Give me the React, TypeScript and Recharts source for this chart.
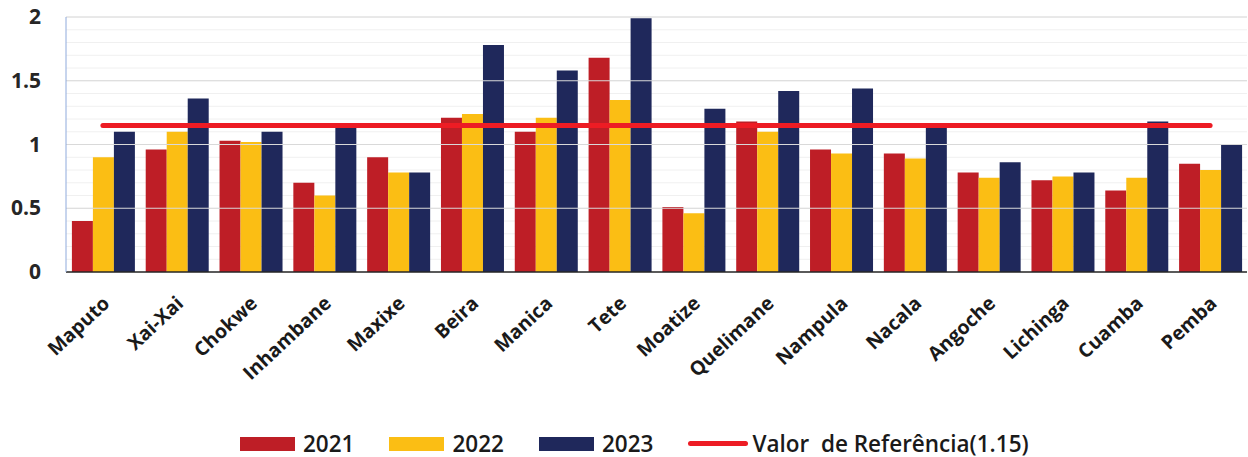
import React from "react";
import {
  ComposedChart,
  Bar,
  Line,
  XAxis,
  YAxis,
  CartesianGrid,
  ReferenceLine,
  Legend,
} from "recharts";

const categories = [
  "Maputo", "Xai-Xai", "Chokwe", "Inhambane", "Maxixe", "Beira", "Manica", "Tete",
  "Moatize", "Quelimane", "Nampula", "Nacala", "Angoche", "Lichinga", "Cuamba", "Pemba",
];
const values2021 = [0.4, 0.96, 1.03, 0.7, 0.9, 1.21, 1.1, 1.68, 0.51, 1.18, 0.96, 0.93, 0.78, 0.72, 0.64, 0.85];
const values2022 = [0.9, 1.1, 1.02, 0.6, 0.78, 1.24, 1.21, 1.35, 0.46, 1.1, 0.93, 0.89, 0.74, 0.75, 0.74, 0.8];
const values2023 = [1.1, 1.36, 1.1, 1.13, 0.78, 1.78, 1.58, 1.99, 1.28, 1.42, 1.44, 1.13, 0.86, 0.78, 1.18, 1.0];
const REF_VALUE = 1.15;
const REF_LABEL = "Valor  de Referência(1.15)";
const seriesNames = ["2021", "2022", "2023"];
const yMajorTicks = [0, 0.5, 1, 1.5, 2];
const yMinorTicks = [0, 0.1, 0.2, 0.3, 0.4, 0.5, 0.6, 0.7, 0.8, 0.9, 1, 1.1, 1.2, 1.3, 1.4, 1.5, 1.6, 1.7, 1.8, 1.9, 2];

const COLORS = ["#BE1E26", "#FBBE14", "#1F285B"];
const REF_COLOR = "#ED1C24";
const FONT = "'Open Sans', 'Liberation Sans', sans-serif";

const data = categories.map((name, i) => ({
  name,
  y2021: values2021[i],
  y2022: values2022[i],
  y2023: values2023[i],
  refValue: REF_VALUE,
}));

const XTick = (props: any) => {
  const { x, y, payload } = props;
  return (
    <g transform={`translate(${x + 8},${y + 33})`}>
      <text
        x={0}
        y={0}
        textAnchor="end"
        transform="rotate(-43)"
        fill="#1a1a1a"
        fontFamily={FONT}
        fontWeight={700}
        fontSize={19.5}
      >
        {payload.value}
      </text>
    </g>
  );
};

const YTick = (props: any) => {
  const { x, y, payload } = props;
  if (!yMajorTicks.includes(payload.value)) return <g />;
  return (
    <text
      x={x}
      y={y}
      dy={7}
      textAnchor="end"
      fill="#262626"
      fontFamily={FONT}
      fontWeight={700}
      fontSize={21}
    >
      {payload.value}
    </text>
  );
};

const LegendContent = () => {
  const textStyle: React.CSSProperties = {
    fontFamily: FONT,
    fontWeight: 600,
    fontSize: 22.5,
    color: "#1a1a1a",
    whiteSpace: "pre",
    lineHeight: "normal",
  };
  return (
    <div
      style={{
        display: "flex",
        alignItems: "center",
        height: 45,
        paddingTop: 18,
        paddingLeft: 240,
        boxSizing: "border-box",
      }}
    >
      {seriesNames.map((s, i) => (
        <div key={s} style={{ display: "flex", alignItems: "center", marginRight: 35 }}>
          <div style={{ width: 55, height: 14, background: COLORS[i], marginRight: 8 }} />
          <span style={textStyle}>{s}</span>
        </div>
      ))}
      <div style={{ display: "flex", alignItems: "center" }}>
        <div style={{ width: 60, height: 5, borderRadius: 3, background: REF_COLOR, marginRight: 4 }} />
        <span style={textStyle}>{REF_LABEL}</span>
      </div>
    </div>
  );
};

export default function App() {
  return (
    <div style={{ position: "absolute", left: 0, top: 0, width: 1248, height: 457, background: "#fff" }}>
      <ComposedChart
        width={1248}
        height={457}
        data={data}
        margin={{ top: 17, right: 1, left: 0, bottom: 0 }}
        barCategoryGap="8%"
        barGap={0}
      >
        <CartesianGrid vertical={false} stroke="#F0F0F0" />
        {yMajorTicks.slice(1).map((v) => (
          <ReferenceLine key={v} y={v} stroke="#D9D9D9" strokeWidth={1.2} />
        ))}
        <XAxis
          dataKey="name"
          interval={0}
          height={140}
          tickLine={false}
          tickSize={0}
          tickMargin={0}
          axisLine={{ stroke: "#262626", strokeWidth: 1.5 }}
          tick={<XTick />}
        />
        <YAxis
          width={66}
          domain={[0, 2]}
          ticks={yMinorTicks}
          interval={0}
          tickLine={false}
          tickSize={0}
          tickMargin={25}
          axisLine={{ stroke: "#8FAADC", strokeWidth: 1 }}
          tick={<YTick />}
        />
        <Legend verticalAlign="bottom" height={45} content={<LegendContent />} />
        <Bar dataKey="y2021" name="2021" fill={COLORS[0]} isAnimationActive={false} />
        <Bar dataKey="y2022" name="2022" fill={COLORS[1]} isAnimationActive={false} />
        <Bar dataKey="y2023" name="2023" fill={COLORS[2]} isAnimationActive={false} />
        <Line
          dataKey="refValue"
          name={REF_LABEL}
          stroke={REF_COLOR}
          strokeWidth={5}
          strokeLinecap="round"
          dot={false}
          activeDot={false}
          isAnimationActive={false}
        />
      </ComposedChart>
    </div>
  );
}
